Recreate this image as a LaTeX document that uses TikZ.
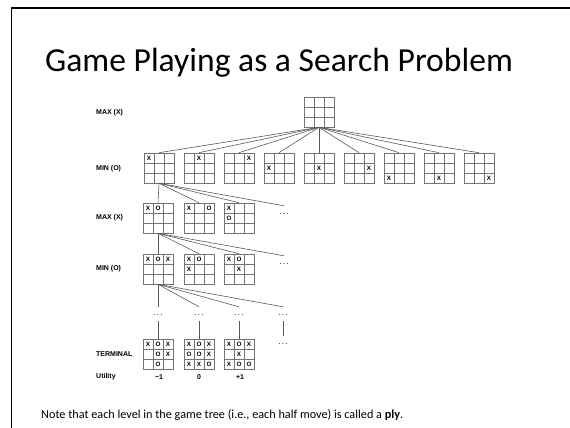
\documentclass[tikz,border=0pt]{standalone}
\usepackage{fontspec}
\setmainfont{Carlito}
\newfontfamily\helv{Liberation Sans}
\tikzset{
 board/.style={draw=black!55, line width=0.6pt, minimum size=30pt, inner sep=0pt},
 gridl/.style={draw=black!55, line width=0.6pt},
 conn/.style={draw=black!65, line width=0.6pt},
 mk/.style={font=\helv\bfseries\fontsize{6.3}{6.3}\selectfont, inner sep=0pt},
 lvl/.style={font=\helv\bfseries\fontsize{7}{7}\selectfont, anchor=west, inner sep=0pt},
 util/.style={font=\helv\bfseries\fontsize{7}{7}\selectfont, inner sep=0pt},
 dotn/.style={font=\helv\fontsize{8}{8}\selectfont, inner xsep=0pt, inner ysep=6pt, text height=2pt, text depth=0pt},
}
\newcommand\tttgrid[3]{%
 \node[board] (#1) at (#2+15,#3+15) {};
 \draw[gridl] (#2+10,#3) -- (#2+10,#3+30) (#2+20,#3) -- (#2+20,#3+30)
   (#2,#3+10) -- (#2+30,#3+10) (#2,#3+20) -- (#2+30,#3+20);
}
\newcommand\tttmarks[3]{%
 \foreach \r/\c/\m in {#3} \node[mk] at (#1+5+10*\c, #2+5+10*\r) {\m};
}
\newcommand\tdots{.\hspace{1.4pt}.\hspace{1.4pt}.}
\begin{document}
\begin{tikzpicture}[x=1pt,y=-1pt]
\useasboundingbox (0,0) rectangle (570,428);
% slide frame
\draw[line width=1.5pt] (11.5,428) -- (11.5,8) -- (570,8);
% title
\node[font=\fontsize{33.6}{36}\selectfont, inner sep=0pt] (title) at (279,63) {Game Playing as a Search Problem};
% level labels
\node[lvl] (l1) at (96,113) {MAX (X)};
\node[lvl] (l2) at (96,169) {MIN (O)};
\node[lvl] (l3) at (96,218) {MAX (X)};
\node[lvl] (l4) at (96,269) {MIN (O)};
\node[lvl] (l5) at (96,354) {TERMINAL};
\node[lvl] (l6) at (96,377) {Utility};
% root
\tttgrid{root}{304}{97}
% MIN row
\foreach \i in {0,...,8} {
  \pgfmathtruncatemacro\bx{144+40*\i}
  \pgfmathtruncatemacro\rr{int(\i/3)}
  \pgfmathtruncatemacro\cc{mod(\i,3)}
  \tttgrid{m\i}{\bx}{153}
  \tttmarks{\bx}{153}{\rr/\cc/X}
  \draw[conn] (root.south) -- (m\i.north);
}
% MAX row
\tttgrid{a1}{143}{203}\tttmarks{143}{203}{0/0/X,0/1/O}
\tttgrid{a2}{184}{203}\tttmarks{184}{203}{0/0/X,0/2/O}
\tttgrid{a3}{224}{203}\tttmarks{224}{203}{0/0/X,1/0/O}
\node[dotn] (d1) at (284,213) {\tdots};
\foreach \n in {a1,a2,a3,d1} \draw[conn] (m0.south) -- (\n.north);
% MIN row 2
\tttgrid{b1}{143}{254}\tttmarks{143}{254}{0/0/X,0/1/O,0/2/X}
\tttgrid{b2}{184}{254}\tttmarks{184}{254}{0/0/X,0/1/O,1/0/X}
\tttgrid{b3}{224}{254}\tttmarks{224}{254}{0/0/X,0/1/O,1/1/X}
\node[dotn] (d2) at (284,263) {\tdots};
\foreach \n in {b1,b2,b3,d2} \draw[conn] (a1.south) -- (\n.north);
% dots row
\node[dotn] (e1) at (158,314) {\tdots};
\node[dotn] (e2) at (199,314) {\tdots};
\node[dotn] (e3) at (239,314) {\tdots};
\node[dotn] (e4) at (283,314) {\tdots};
\foreach \n in {e1,e2,e3,e4} \draw[conn] (b1.south) -- (\n.north);
% terminal row
\tttgrid{t1}{143}{339}\tttmarks{143}{339}{0/0/X,0/1/O,0/2/X,1/1/O,1/2/X,2/1/O}
\tttgrid{t2}{184}{339}\tttmarks{184}{339}{0/0/X,0/1/O,0/2/X,1/0/O,1/1/O,1/2/X,2/0/X,2/1/X,2/2/O}
\tttgrid{t3}{224}{339}\tttmarks{224}{339}{0/0/X,0/1/O,0/2/X,1/1/X,2/0/X,2/1/O,2/2/O}
\node[dotn] (t4) at (283,343) {\tdots};
\draw[conn] (e1.south) -- (t1.north);
\draw[conn] (e2.south) -- (t2.north);
\draw[conn] (e3.south) -- (t3.north);
\draw[conn] (e4.south) -- (t4.north);
% utilities
\node[util] (u1) at (159,377) {−1};
\node[util] (u2) at (199,377) {0};
\node[util] (u3) at (240,377) {+1};
% note
\node[anchor=west, inner sep=0pt, font=\fontsize{12.2}{14}\selectfont] (note) at (41,415) {Note that each level in the game tree (i.e., each half move) is called a \textbf{ply}.};
\end{tikzpicture}
\end{document}
